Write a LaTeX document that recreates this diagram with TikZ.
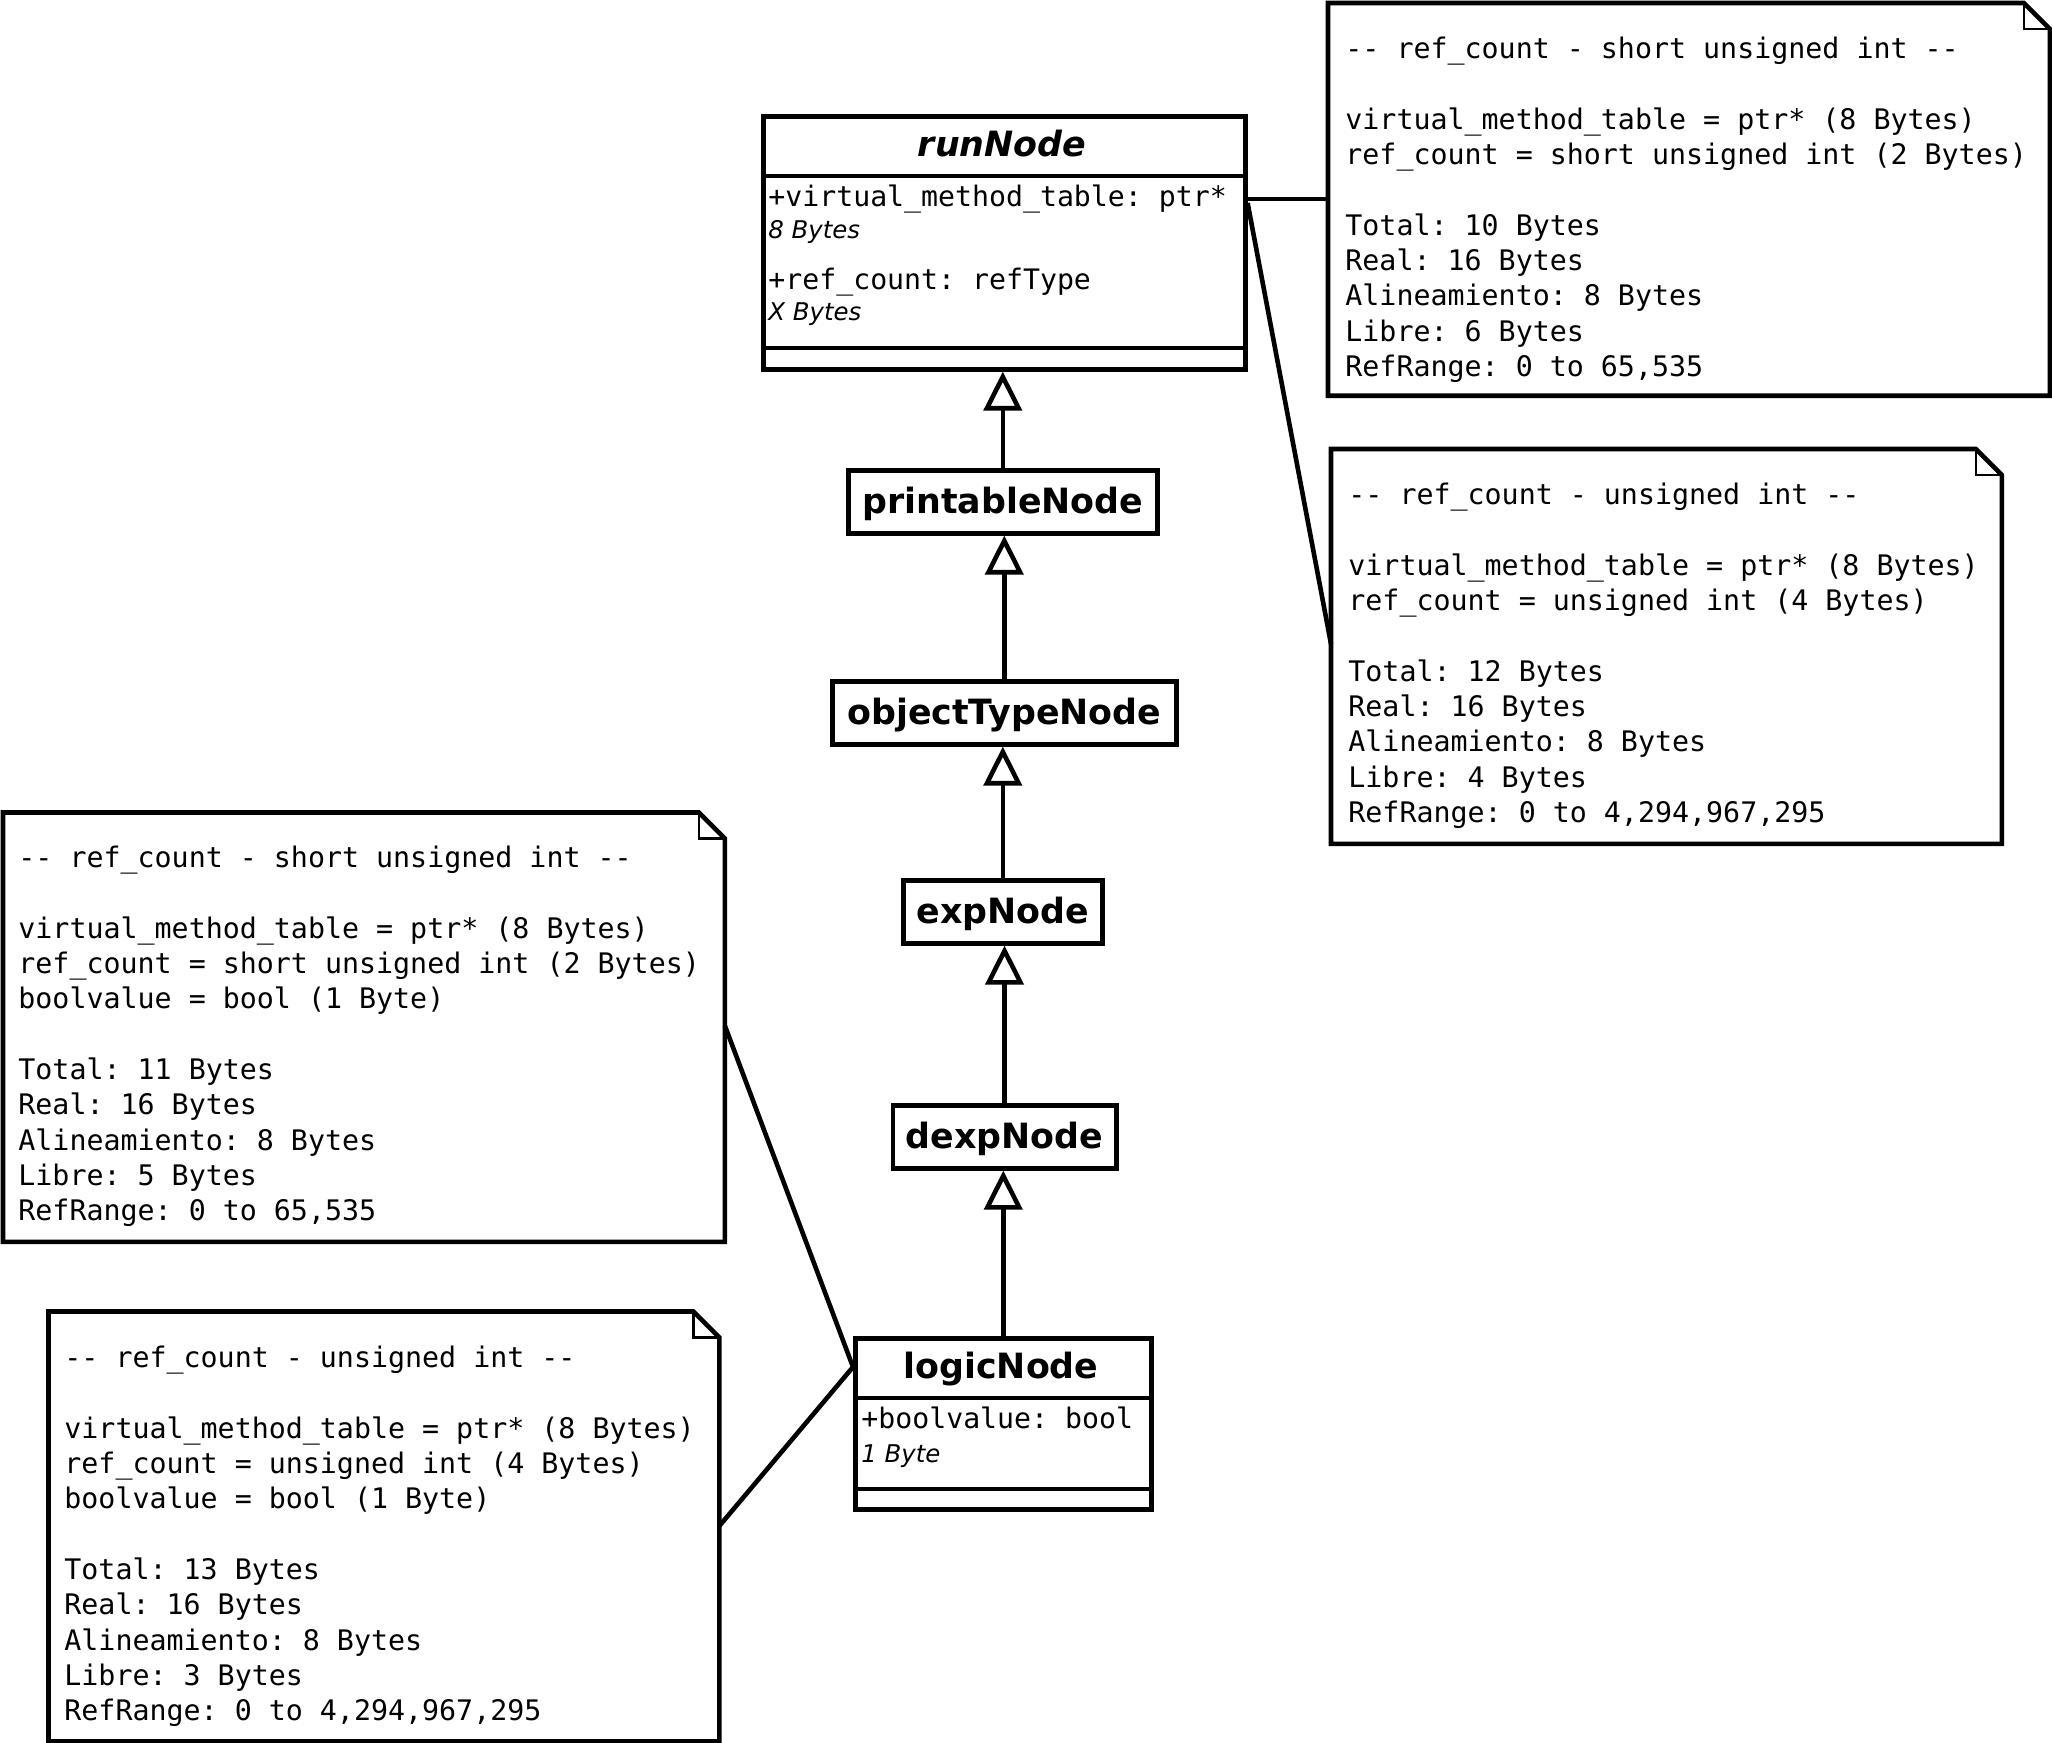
\documentclass[tikz,border=0pt]{standalone}
\usepackage{fontspec}
\setmainfont{DejaVu Sans}
\setmonofont{DejaVu Sans Mono}
\usetikzlibrary{arrows.meta,calc}
\newcommand\dogear[1]{%
  \draw[notebord] (#1.north west) -- ($(#1.north east)+(-26,0)$) -- ($(#1.north east)+(0,26)$) -- (#1.south east) -- (#1.south west) -- cycle;
  \draw[earline] ($(#1.north east)+(-26,0)$) -- ($(#1.north east)+(-26,26)$) -- ($(#1.north east)+(0,26)$);}
\begin{document}
\begin{tikzpicture}[x=0.5pt,y=-0.5pt,
  classbox/.style={draw, line width=2.3pt, inner sep=0pt, anchor=north west},
  simplebox/.style={classbox, font=\bfseries\fontsize{17.4}{20}\selectfont, text height=14pt, text depth=2.5pt, minimum height=31.5pt},
  ctitle/.style={font=\bfseries\fontsize{17.4}{20}\selectfont, anchor=base, inner sep=0pt},
  cattr/.style={font=\ttfamily\fontsize{14.1}{17}\selectfont, anchor=base west, inner sep=0pt},
  csize/.style={font=\itshape\fontsize{12.2}{14}\selectfont, anchor=base west, inner sep=0pt},
  notearea/.style={inner sep=0pt, anchor=north west},
  notetext/.style={font=\ttfamily\fontsize{14.15}{17.67}\selectfont, align=left, anchor=north west, inner sep=0pt},
  notebord/.style={line width=2.3pt, line join=miter},
  earline/.style={line width=1.3pt},
  sepline/.style={line width=2.3pt},
  inh/.style={-{Triangle[open,length=19.5pt,width=19pt]}, line width=2.3pt},
  link/.style={line width=2.3pt}]
\useasboundingbox (0,0) rectangle (2052,1743);

% ---- runNode
\node[classbox, minimum width=241pt, minimum height=126.5pt] (runNode) at (761,114) {};
\draw[sepline] ($(runNode.north west)+(0,62)$) -- ($(runNode.north east)+(0,62)$);
\draw[sepline] ($(runNode.north west)+(0,234)$) -- ($(runNode.north east)+(0,234)$);
\node[ctitle] (runT) at (1002,157) {\itshape runNode};
\node[cattr] (runA1) at (768,207) {+virtual\_method\_table: ptr*};
\node[csize] (runA2) at (768,239) {8 Bytes};
\node[cattr] (runA3) at (768,290) {+ref\_count: refType};
\node[csize] (runA4) at (768,321) {X Bytes};

% ---- simple classes
\node[simplebox, minimum width=154.5pt] (printableNode) at (846,468) {printableNode};
\node[simplebox, minimum width=172pt] (objectTypeNode) at (830,679) {objectTypeNode};
\node[simplebox, minimum width=99.5pt] (expNode) at (901,878) {expNode};
\node[simplebox, minimum width=111.75pt] (dexpNode) at (890.5,1103) {dexpNode};

% ---- logicNode
\node[classbox, minimum width=148pt, minimum height=85.5pt] (logicNode) at (853,1336) {};
\draw[sepline] ($(logicNode.north west)+(0,62)$) -- ($(logicNode.north east)+(0,62)$);
\draw[sepline] ($(logicNode.north west)+(0,153)$) -- ($(logicNode.north east)+(0,153)$);
\node[ctitle] (logicT) at (1001,1378.5) {logicNode};
\node[cattr] (logicA1) at (861,1428) {+boolvalue: bool};
\node[csize] (logicA2) at (861,1462) {1 Byte};

% ---- inheritance
\draw[inh] (printableNode.north) -- (printableNode.north |- runNode.south);
\draw[inh] (objectTypeNode.north) -- (objectTypeNode.north |- printableNode.south);
\draw[inh] (expNode.north) -- (expNode.north |- objectTypeNode.south);
\draw[inh] (dexpNode.north) -- (dexpNode.north |- expNode.south);
\draw[inh] (logicNode.north) -- (logicNode.north |- dexpNode.south);

% ---- notes
\node[notearea, minimum width=360.5pt, minimum height=196pt] (noteA) at (1328,3) {};
\dogear{noteA}
\node[notetext] (noteAT) at (1345,34) {\rule{0pt}{12pt}-- ref\_count - short unsigned int --\\\mbox{}\\virtual\_method\_table = ptr* (8 Bytes)\\ref\_count = short unsigned int (2 Bytes)\\\mbox{}\\Total: 10 Bytes\\Real: 16 Bytes\\Alineamiento: 8 Bytes\\Libre: 6 Bytes\\RefRange: 0 to 65,535};

\node[notearea, minimum width=335pt, minimum height=197pt] (noteB) at (1331,449) {};
\dogear{noteB}
\node[notetext] (noteBT) at (1348,480) {\rule{0pt}{12pt}-- ref\_count - unsigned int --\\\mbox{}\\virtual\_method\_table = ptr* (8 Bytes)\\ref\_count = unsigned int (4 Bytes)\\\mbox{}\\Total: 12 Bytes\\Real: 16 Bytes\\Alineamiento: 8 Bytes\\Libre: 4 Bytes\\RefRange: 0 to 4,294,967,295};

\node[notearea, minimum width=360.5pt, minimum height=214.3pt] (noteC) at (3,812.5) {};
\dogear{noteC}
\node[notetext] (noteCT) at (18,843) {\rule{0pt}{12pt}-- ref\_count - short unsigned int --\\\mbox{}\\virtual\_method\_table = ptr* (8 Bytes)\\ref\_count = short unsigned int (2 Bytes)\\boolvalue = bool (1 Byte)\\\mbox{}\\Total: 11 Bytes\\Real: 16 Bytes\\Alineamiento: 8 Bytes\\Libre: 5 Bytes\\RefRange: 0 to 65,535};

\node[notearea, minimum width=335pt, minimum height=214.5pt] (noteD) at (48.5,1311.5) {};
\dogear{noteD}
\node[notetext] (noteDT) at (64,1343) {\rule{0pt}{12pt}-- ref\_count - unsigned int --\\\mbox{}\\virtual\_method\_table = ptr* (8 Bytes)\\ref\_count = unsigned int (4 Bytes)\\boolvalue = bool (1 Byte)\\\mbox{}\\Total: 13 Bytes\\Real: 16 Bytes\\Alineamiento: 8 Bytes\\Libre: 3 Bytes\\RefRange: 0 to 4,294,967,295};

% ---- note links
\coordinate (rA) at ($(runNode.north east)+(0,85)$);
\coordinate (rB) at ($(runNode.north east)+(0,89)$);
\coordinate (nB) at ($(noteB.north west)+(0,195)$);
\coordinate (nC) at ($(noteC.north east)+(0,213)$);
\coordinate (nD) at ($(noteD.north east)+(0,214.5)$);
\coordinate (lL) at ($(logicNode.north west)+(0,31)$);
\draw[link] (rA) -- (rA -| noteA.west);
\draw[link] (rB) -- (nB);
\draw[link] (nC) -- (lL);
\draw[link] (nD) -- (lL);
\end{tikzpicture}
\end{document}
